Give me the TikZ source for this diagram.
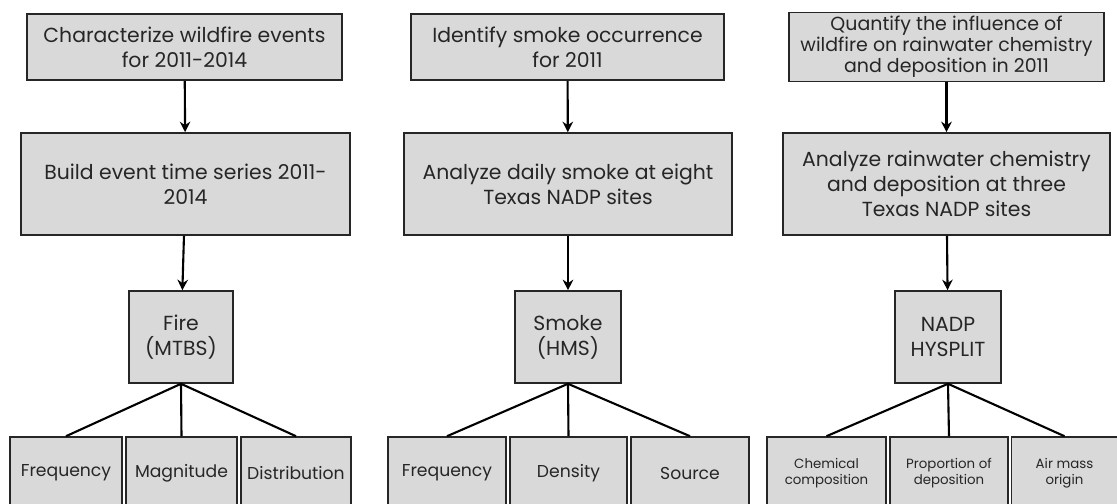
\documentclass[tikz,border=0pt]{standalone}
\usepackage{fontspec}
\setmainfont{Poppins}
\usepackage{tikz}
\usetikzlibrary{arrows.meta,positioning}
\usepackage{xcolor}

\definecolor{boxgray}{HTML}{D9D9D9}
\definecolor{inkgray}{HTML}{262626}

\tikzset{
    box/.style={draw=inkgray,line width=0.9pt,fill=boxgray,text=inkgray,align=center,
        inner sep=2pt,font=\fontsize{11.6}{14.2}\selectfont},
    tight box/.style={box,font=\fontsize{10.8}{12}\selectfont},
    leaf/.style={box,font=\fontsize{9.8}{11}\selectfont},
    small leaf/.style={box,font=\fontsize{7.6}{9.1}\selectfont},
    flow/.style={-{Stealth[length=6pt,width=6pt]},line width=1.2pt,black},
    branch/.style={line width=1.2pt,black}
}

\begin{document}
\begin{tikzpicture}[x=0.02cm,y=-0.02cm]
    \useasboundingbox (0,0) rectangle (1117,504);
    \clip (0,0) rectangle (1117,504);

    % Wildfire column
    \node[box,minimum width=315*0.02cm,minimum height=66*0.02cm] (goalfire) at (184.5,47)
        {Characterize wildfire events\\for 2011-2014};
    \node[box,minimum width=329*0.02cm,minimum height=102*0.02cm] (taskfire) at (185.5,184)
        {Build event time series 2011-\\2014};
    \node[box,minimum width=104*0.02cm,minimum height=92*0.02cm] (fire) at (181,337)
        {Fire\\(MTBS)};
    \node[leaf,minimum width=112*0.02cm,minimum height=72*0.02cm] (firefreq) at (66,473) {Frequency};
    \node[leaf,minimum width=111*0.02cm,minimum height=72*0.02cm] (firemag) at (181.5,473) {Magnitude};
    \node[leaf,minimum width=110*0.02cm,minimum height=72*0.02cm] (firedist) at (296,473) {Distribution};

    % Smoke column
    \node[box,minimum width=313*0.02cm,minimum height=66*0.02cm] (goalsmoke) at (567.5,47)
        {Identify smoke occurrence\\for 2011};
    \node[box,minimum width=328*0.02cm,minimum height=102*0.02cm] (tasksmoke) at (568,184)
        {Analyze daily smoke at eight\\Texas NADP sites};
    \node[box,minimum width=106*0.02cm,minimum height=92*0.02cm] (smoke) at (568,337)
        {Smoke\\(HMS)};
    \node[leaf,minimum width=118*0.02cm,minimum height=72*0.02cm] (smokefreq) at (447,473) {Frequency};
    \node[leaf,minimum width=117*0.02cm,minimum height=72*0.02cm] (smokedens) at (568.5,473) {Density};
    \node[leaf,minimum width=118*0.02cm,minimum height=72*0.02cm] (smokesrc) at (690,473) {Source};

    % Rainwater column
    \node[tight box,minimum width=315*0.02cm,minimum height=66*0.02cm] (goalrain) at (946.5,47)
        {Quantify the influence of\\wildfire on rainwater chemistry\\and deposition in 2011};
    \node[box,minimum width=327*0.02cm,minimum height=102*0.02cm] (taskrain) at (946.5,184)
        {Analyze rainwater chemistry\\and deposition at three\\Texas NADP sites};
    \node[box,minimum width=106*0.02cm,minimum height=92*0.02cm] (nadp) at (948,337)
        {NADP\\HYSPLIT};
    \node[small leaf,minimum width=119*0.02cm,minimum height=72*0.02cm] (chem) at (826.5,473)
        {Chemical\\composition};
    \node[small leaf,minimum width=118*0.02cm,minimum height=72*0.02cm] (prop) at (949,473)
        {Proportion of\\deposition};
    \node[small leaf,minimum width=106*0.02cm,minimum height=72*0.02cm] (airmass) at (1064.5,473)
        {Air mass\\origin};

    % Arrows down each column
    \draw[flow] (goalfire) -- (taskfire);
    \draw[flow] (taskfire) -- (fire);
    \draw[flow] (goalsmoke) -- (tasksmoke);
    \draw[flow] (tasksmoke) -- (smoke);
    \draw[flow] (goalrain) -- (taskrain);
    \draw[flow] (taskrain) -- (nadp);

    % Branches to the leaves
    \foreach \leaf in {firefreq,firemag,firedist} {
        \draw[branch] (fire.south) -- (\leaf.north);
    }
    \foreach \leaf in {smokefreq,smokedens,smokesrc} {
        \draw[branch] (smoke.south) -- (\leaf.north);
    }
    \foreach \leaf in {chem,prop,airmass} {
        \draw[branch] (nadp.south) -- (\leaf.north);
    }
\end{tikzpicture}
\end{document}
